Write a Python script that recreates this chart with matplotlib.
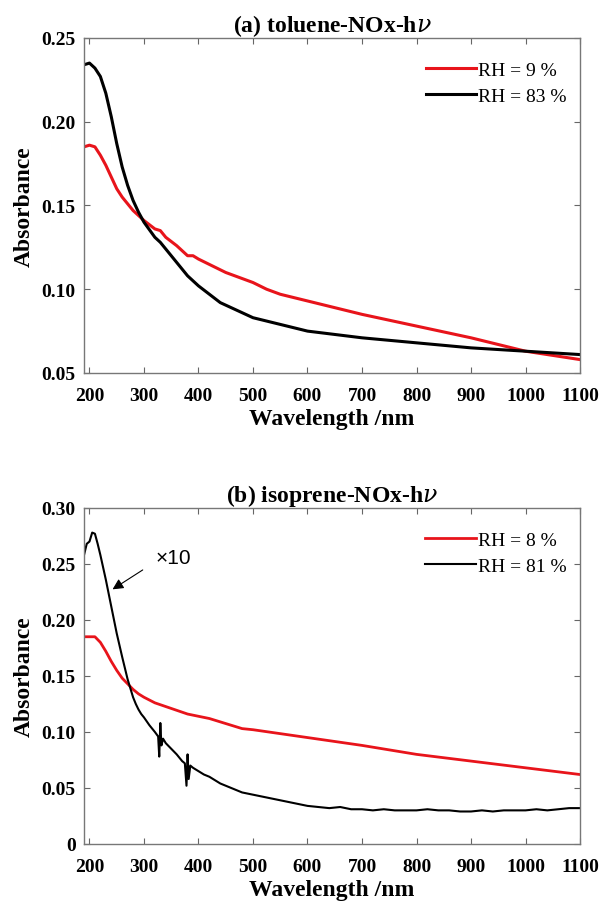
import numpy as np
import matplotlib
matplotlib.use("Agg")
import matplotlib.pyplot as plt

plt.rcParams['font.family'] = ['Liberation Serif', 'DejaVu Serif']
plt.rcParams['mathtext.fontset'] = 'dejavuserif'

# (a) toluene-NOx-hv
wl_a_red = [190, 200, 210, 220, 230, 240, 250, 260, 270, 280, 290, 300, 320, 330,
            340, 360, 380, 390, 400, 425, 450, 475, 500, 525, 550, 575, 600, 650,
            700, 800, 900, 1000, 1100]
abs_a_red = [0.185, 0.186, 0.185, 0.180, 0.174, 0.167, 0.160, 0.155, 0.151, 0.147,
             0.144, 0.141, 0.136, 0.135, 0.131, 0.126, 0.120, 0.120, 0.118, 0.114,
             0.110, 0.107, 0.104, 0.100, 0.097, 0.095, 0.093, 0.089, 0.085, 0.078,
             0.071, 0.063, 0.058]
wl_a_blk = [190, 200, 210, 220, 230, 240, 250, 260, 270, 280, 290, 300, 320, 330,
            350, 380, 400, 420, 440, 460, 480, 500, 525, 550, 575, 600, 650, 700,
            800, 900, 1000, 1100]
abs_a_blk = [0.234, 0.235, 0.232, 0.227, 0.217, 0.203, 0.187, 0.173, 0.162, 0.153,
             0.146, 0.140, 0.131, 0.128, 0.120, 0.108, 0.102, 0.097, 0.092, 0.089,
             0.086, 0.083, 0.081, 0.079, 0.077, 0.075, 0.073, 0.071, 0.068, 0.065,
             0.063, 0.061]

# (b) isoprene-NOx-hv
wl_b_red = [190, 200, 210, 220, 230, 240, 250, 260, 270, 280, 290, 300, 320, 350,
            380, 400, 420, 440, 460, 480, 500, 600, 700, 800, 900, 1000, 1100]
abs_b_red = [0.185, 0.185, 0.185, 0.180, 0.172, 0.163, 0.155, 0.148, 0.143, 0.138,
             0.134, 0.131, 0.126, 0.121, 0.116, 0.114, 0.112, 0.109, 0.106, 0.103,
             0.102, 0.095, 0.088, 0.080, 0.074, 0.068, 0.062]
wl_b_blk = [190, 195, 200, 205, 210, 215, 220, 230, 240, 250, 260, 270, 280, 285,
            290, 295, 300, 310, 320, 326, 328, 330, 332, 335, 340, 350, 360, 370,
            375, 378, 380, 382, 385, 390, 400, 410, 420, 430, 440, 450, 460, 470,
            480, 490, 500, 520, 540, 560, 580, 600, 620, 640, 660, 680, 700, 720,
            740, 760, 780, 800, 820, 840, 860, 880, 900, 920, 940, 960, 980, 1000,
            1020, 1040, 1060, 1080, 1100]
abs_b_blk = [0.258, 0.268, 0.270, 0.278, 0.277, 0.268, 0.258, 0.236, 0.212, 0.188,
             0.167, 0.147, 0.131, 0.125, 0.120, 0.116, 0.113, 0.106, 0.100, 0.096,
             0.078, 0.108, 0.088, 0.094, 0.090, 0.085, 0.080, 0.074, 0.072, 0.052,
             0.080, 0.058, 0.070, 0.068, 0.065, 0.062, 0.060, 0.057, 0.054, 0.052,
             0.050, 0.048, 0.046, 0.045, 0.044, 0.042, 0.040, 0.038, 0.036, 0.034,
             0.033, 0.032, 0.033, 0.031, 0.031, 0.030, 0.031, 0.030, 0.030, 0.030,
             0.031, 0.030, 0.030, 0.029, 0.029, 0.030, 0.029, 0.030, 0.030, 0.030,
             0.031, 0.030, 0.031, 0.032, 0.032]

xticks = [200, 300, 400, 500, 600, 700, 800, 900, 1000, 1100]


def style_axes(ax, ylim, yticks, yfmt):
    ax.set_xlim(190, 1100)
    ax.set_ylim(*ylim)
    ax.set_xticks(xticks)
    ax.set_yticks(yticks)
    ax.set_yticklabels([yfmt(v) for v in yticks])
    ax.tick_params(direction='in', top=True, right=True, length=4,
                   color='#666666', labelsize=14, pad=6)
    ax.tick_params(axis='x', pad=10)
    for lab in ax.get_xticklabels() + ax.get_yticklabels():
        lab.set_fontweight('bold')
    for sp in ax.spines.values():
        sp.set_color('#777777')
        sp.set_linewidth(1.0)
    ax.set_xlabel('Wavelength /nm', fontsize=17, fontweight='bold', labelpad=3)
    ax.set_ylabel('Absorbance', fontsize=17, fontweight='bold', labelpad=5)


def add_legend(ax):
    ax.legend(loc='upper right', bbox_to_anchor=(1.02, 1.0), frameon=False,
              fontsize=14, handlelength=2.6, handletextpad=0.1,
              labelspacing=0.45, borderaxespad=0.8)


fig = plt.figure(figsize=(6.01, 9.04), dpi=100)

ax1 = fig.add_axes([0.1398, 0.5863, 0.8253, 0.3706])
ax1.plot(wl_a_red, abs_a_red, color='#e8141b', lw=2.2, label='RH = 9 %')
ax1.plot(wl_a_blk, abs_a_blk, color='black', lw=2.2, label='RH = 83 %')
style_axes(ax1, (0.05, 0.25), [0.05, 0.10, 0.15, 0.20, 0.25], lambda v: f'{v:.2f}')
ax1.set_title('(a) toluene-NOx-h$\\it{\\nu}$', fontsize=17, fontweight='bold', pad=5)
add_legend(ax1)

ax2 = fig.add_axes([0.1398, 0.0653, 0.8253, 0.3717])
ax2.plot(wl_b_red, abs_b_red, color='#e8141b', lw=2.0, label='RH = 8 %')
ax2.plot(wl_b_blk, abs_b_blk, color='black', lw=1.5, label='RH = 81 %')
style_axes(ax2, (0, 0.30), [0, 0.05, 0.10, 0.15, 0.20, 0.25, 0.30],
           lambda v: '0' if v == 0 else f'{v:.2f}')
ax2.set_title('(b) isoprene-NOx-h$\\it{\\nu}$', fontsize=17, fontweight='bold', pad=5)
add_legend(ax2)
ax2.annotate('', xy=(238, 0.226), xytext=(302, 0.246),
             arrowprops=dict(arrowstyle='-|>', color='black', lw=0.8,
                             mutation_scale=16))
ax2.text(321, 0.256, '\u00d710', fontsize=15, family='Liberation Sans',
         va='center', ha='left')

fig.savefig('out.png', dpi=100)
